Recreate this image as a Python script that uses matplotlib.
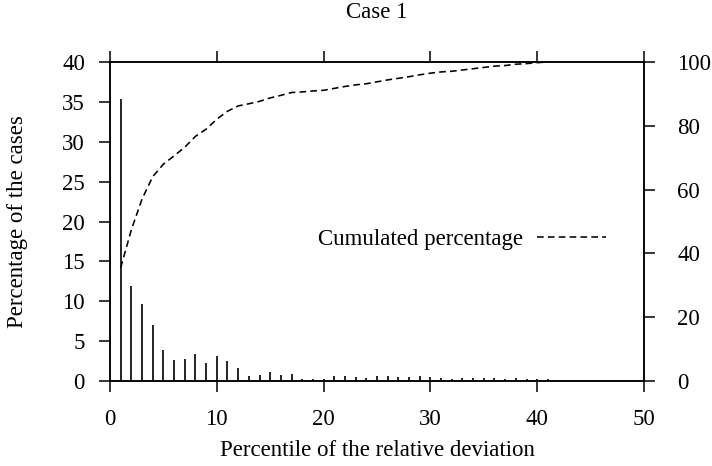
import matplotlib
matplotlib.use('Agg')
import matplotlib.pyplot as plt
import numpy as np

plt.rcParams['font.family'] = ['Liberation Serif', 'DejaVu Serif']

percentile = list(range(1, 42))
cases = [35.4, 11.9, 9.6, 7.0, 3.9, 2.6, 2.7, 3.4, 2.25, 3.1,
         2.5, 1.67, 0.67, 0.75, 1.08, 0.8, 0.88, 0.2, 0.3, 0.2,
         0.6, 0.6, 0.5, 0.35, 0.6, 0.6, 0.5, 0.5, 0.6, 0.5,
         0.4, 0.2, 0.4, 0.4, 0.4, 0.4, 0.2, 0.4, 0.2, 0.3, 0.2]
cumulated = np.cumsum(cases)
cumulated = cumulated / cumulated[-1] * 100

fs = 16.5

fig = plt.figure(figsize=(7.12, 4.66), dpi=100)
ax = fig.add_axes([110 / 712, 1 - 381 / 466, 534 / 712, 319 / 466])
ax2 = ax.twinx()

ax.vlines(percentile, 0, cases, color='black', linewidth=1.2)
line, = ax2.plot(percentile, cumulated, color='black', linewidth=1.15,
                 dashes=(4.2, 2.6), label='Cumulated percentage')

ax.set_xlim(0, 50)
ax.set_ylim(0, 40)
ax2.set_ylim(0, 100)
ax.set_xticks(np.arange(0, 51, 10))
ax.set_yticks(np.arange(0, 41, 5))
ax2.set_yticks(np.arange(0, 101, 20))

for a in (ax, ax2):
    for s in a.spines.values():
        s.set_linewidth(1.1)
ax.tick_params(axis='x', direction='out', length=8, width=1.1, labelsize=fs,
               top=True, pad=12)
ax.tick_params(axis='y', direction='out', length=8, width=1.1, labelsize=fs, pad=10)
ax2.tick_params(direction='out', length=8, width=1.1, labelsize=fs, pad=16)

fig.text(377 / 712, 1 - 13 / 466, 'Case 1', fontsize=fs, ha='center', va='center')
ax.set_xlabel('Percentile of the relative deviation', fontsize=fs, va='center')
ax.xaxis.set_label_coords(0.5, (381 - 450) / 319)
ax.set_ylabel('Percentage of the cases', fontsize=fs, va='center')
ax.yaxis.set_label_coords((18 - 110) / 534, 0.5)

fig.legend(handles=[line], loc='center right', bbox_to_anchor=(606 / 712, 1 - 239 / 466),
           frameon=False, markerfirst=False, fontsize=fs, handlelength=3.0,
           handletextpad=0.6, borderpad=0, borderaxespad=0)

plt.savefig('out.png', dpi=100)
